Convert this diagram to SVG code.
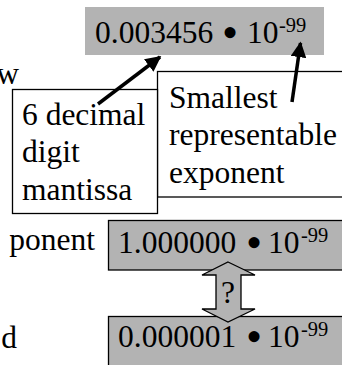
<svg xmlns="http://www.w3.org/2000/svg" width="342" height="365" viewBox="0 0 342 365">
<style>
text{font-family:"Liberation Serif","Times New Roman",serif;font-size:31.5px;fill:#000}
.sup{font-size:20.5px}
.bul{font-size:46px}
.gray{fill:#b3b3b3}
.grayb{fill:#b3b3b3;stroke:#000;stroke-width:1.3}
.box{fill:#fff;stroke:#000;stroke-width:1.3}
.conn{stroke:#000;stroke-width:3.5;fill:none}
</style>
<defs>
<marker id="ah" viewBox="0 0 10 10" refX="9" refY="5" markerWidth="4.5" markerHeight="4.5" orient="auto" markerUnits="strokeWidth">
<path d="M0,0 L10,5 L0,10 z" fill="#000"/>
</marker>
</defs>
<g id="bg-text">
<text x="19" y="84" text-anchor="end">w</text>
<text x="95" y="250" text-anchor="end">ponent</text>
<text x="17" y="348" text-anchor="end">d</text>
</g>
<g id="top-number">
<rect class="gray" x="85" y="7" width="239" height="48"/>
<text x="95" y="43">0.003456<tspan class="bul" x="222" dy="5">•</tspan><tspan x="247" dy="-5">10</tspan><tspan class="sup" x="279" dy="-11">-99</tspan></text>
</g>
<g id="smallest-box">
<rect class="box" x="157.5" y="71.5" width="200" height="125.5"/>
<text x="169" y="108">Smallest</text>
<text x="169" y="145">representable</text>
<text x="169" y="183">exponent</text>
</g>
<g id="mantissa-box">
<rect class="box" x="12.5" y="89.5" width="145" height="124"/>
<text x="22" y="125">6 decimal</text>
<text x="22" y="162">digit</text>
<text x="22" y="200">mantissa</text>
</g>
<g id="number-1">
<rect class="grayb" x="108.5" y="220.5" width="250" height="49.5"/>
<text x="118" y="253">1.000000<tspan class="bul" x="246" dy="5">•</tspan><tspan x="268" dy="-5">10</tspan><tspan class="sup" x="301" dy="-11">-99</tspan></text>
</g>
<g id="number-2">
<rect class="grayb" x="108.5" y="316.5" width="250" height="60"/>
<text x="118" y="347">0.000001<tspan class="bul" x="246" dy="5">•</tspan><tspan x="268" dy="-5">10</tspan><tspan class="sup" x="301" dy="-11">-99</tspan></text>
</g>
<g id="connectors">
<line class="conn" x1="98" y1="104" x2="160" y2="57" marker-end="url(#ah)"/>
<line class="conn" x1="292" y1="102" x2="300.5" y2="43" marker-end="url(#ah)"/>
<polygon points="228,262 255,275 241,275 241,309 255,309 228,322 202,309 216,309 216,275 202,275" fill="#b3b3b3" stroke="#000" stroke-width="1.3" stroke-linejoin="miter"/>
<text x="228" y="303" text-anchor="middle">?</text>
</g>
</svg>
